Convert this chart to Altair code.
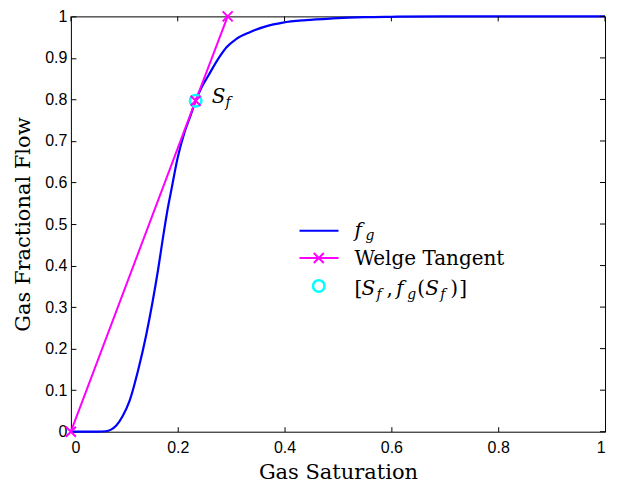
import altair as alt
import pandas as pd

# ---- data ----
sat = [0.0, 0.05, 0.065, 0.075, 0.085, 0.097, 0.110, 0.127, 0.141, 0.1527, 0.1632,
       0.1726, 0.181, 0.1885, 0.200, 0.2125, 0.2236, 0.2336, 0.245, 0.2567, 0.2785,
       0.291, 0.310, 0.335, 0.365, 0.397, 0.44, 0.49, 0.55, 0.6, 0.7, 0.8, 1.0]
frac = [0.0, 0.0, 0.001, 0.005, 0.015, 0.038, 0.075, 0.154, 0.233, 0.311, 0.390,
        0.469, 0.535, 0.585, 0.660, 0.720, 0.760, 0.797, 0.830, 0.856, 0.903,
        0.925, 0.946, 0.962, 0.976, 0.985, 0.991, 0.995, 0.998, 0.999, 1.0, 1.0, 1.0]
tan_s = [0.0, 0.2336, 0.2935]
tan_f = [0.0, 0.797, 1.0]
sf_s = [0.2336]
sf_f = [0.797]
x_ticks = [0, 0.2, 0.4, 0.6, 0.8, 1]
y_ticks = [0, 0.1, 0.2, 0.3, 0.4, 0.5, 0.6, 0.7, 0.8, 0.9, 1]

curve = pd.DataFrame({"s": sat, "f": frac})
tangent = pd.DataFrame({"s": tan_s, "f": tan_f})
point = pd.DataFrame({"s": sf_s, "f": sf_f})
xt = pd.DataFrame({"s": x_ticks})
yt = pd.DataFrame({"f": y_ticks})

SERIF = "DejaVu Serif"
SANS = "Liberation Sans"
W, H = 535, 416

xs = alt.Scale(domain=[0, 1], nice=False, zero=False)
ys = alt.Scale(domain=[0, 1], nice=False, zero=False)
x_axis = alt.Axis(orient="bottom", values=x_ticks, format="~g", offset=-5, tickSize=5,
                  domain=False, grid=False, labelPadding=8, labelFont=SANS,
                  labelFontSize=16, labelColor="black", tickColor="black", tickWidth=1,
                  title="Gas Saturation", titleFont=SERIF, titleFontSize=21,
                  titleFontWeight="normal", titleColor="black", titlePadding=6)
y_axis = alt.Axis(orient="left", values=y_ticks, format="~g", offset=-5, tickSize=5,
                  domain=False, grid=False, labelPadding=4, labelFont=SANS,
                  labelFontSize=16, labelColor="black", tickColor="black", tickWidth=1,
                  title="Gas Fractional Flow", titleFont=SERIF, titleFontSize=21,
                  titleFontWeight="normal", titleColor="black", titlePadding=11)

X = alt.X("s:Q", scale=xs, axis=x_axis)
Y = alt.Y("f:Q", scale=ys, axis=y_axis)

XMARK = "M-1,-1L1,1M1,-1L-1,1"

line_fg = alt.Chart(curve).mark_line(color="#0000ff", strokeWidth=2.2,
                                     interpolate="monotone").encode(x=X, y=Y)
line_tan = alt.Chart(tangent).mark_line(color="#ff00ff", strokeWidth=2).encode(x=X, y=Y)
circ = alt.Chart(point).mark_point(shape="circle", size=133, color="#00ffff",
                                   strokeWidth=2.5, filled=False, opacity=1).encode(x=X, y=Y)
xmarks = alt.Chart(tangent).mark_point(shape=XMARK, size=100, color="#ff00ff",
                                       strokeWidth=2, filled=False, opacity=1).encode(x=X, y=Y)
lab_S = alt.Chart(point).mark_text(text="S", font=SERIF, fontStyle="italic", fontSize=20,
                                   align="left", baseline="alphabetic", dx=16, dy=2,
                                   color="black").encode(x=X, y=Y)
lab_f = alt.Chart(point).mark_text(text="f", font=SERIF, fontStyle="italic", fontSize=14,
                                   align="left", baseline="alphabetic", dx=30, dy=6,
                                   color="black").encode(x=X, y=Y)

# inward ticks on top and right edges
top_ticks = alt.Chart(xt).mark_rule(color="black", strokeWidth=1).encode(
    x=X, y=alt.value(0), y2=alt.value(5))
right_ticks = alt.Chart(yt).mark_rule(color="black", strokeWidth=1).encode(
    y=Y, x=alt.value(W - 5), x2=alt.value(W))

# ---- legend ----
one = alt.Data(values=[{}])
leg = []
leg.append(alt.Chart(one).mark_rule(color="#0000ff", strokeWidth=2.2).encode(
    x=alt.value(229), x2=alt.value(268), y=alt.value(214.7)))
leg.append(alt.Chart(one).mark_rule(color="#ff00ff", strokeWidth=2).encode(
    x=alt.value(229), x2=alt.value(268), y=alt.value(242)))
leg.append(alt.Chart(one).mark_point(shape=XMARK, size=100, color="#ff00ff", strokeWidth=2,
                                     filled=False, opacity=1).encode(
    x=alt.value(248.3), y=alt.value(242)))
leg.append(alt.Chart(one).mark_point(shape="circle", size=133, color="#00ffff",
                                     strokeWidth=2.5, filled=False, opacity=1).encode(
    x=alt.value(248.3), y=alt.value(270)))


def txt(t, x, y, size=20, italic=False):
    return alt.Chart(one).mark_text(text=t, font=SERIF, fontSize=size,
                                    fontStyle="italic" if italic else "normal",
                                    align="left", baseline="alphabetic",
                                    color="black").encode(x=alt.value(x), y=alt.value(y))


leg += [txt("f", 284, 221, italic=True), txt("g", 295, 224, 14, italic=True)]
leg += [txt("Welge Tangent", 284, 249)]
leg += [txt("[", 284, 279), txt("S", 291, 279, italic=True), txt("f", 306, 283, 14, True),
        txt(",", 316, 279), txt("f", 326, 279, italic=True), txt("g", 337, 283, 14, True),
        txt("(", 347, 279), txt("S", 355, 279, italic=True), txt("f", 370, 283, 14, True),
        txt(")", 380, 279), txt("]", 389, 279)]

chart = alt.layer(line_fg, line_tan, circ, xmarks, lab_S, lab_f, top_ticks, right_ticks,
                  *leg).properties(
    width=W, height=H,
    autosize=alt.AutoSizeParams(type="none"),
    padding={"left": 63, "top": 8, "right": 10, "bottom": 56},
    background="white",
).configure_view(stroke="black", strokeWidth=1)

chart.save("out.html", embed_options={"renderer": "svg", "actions": False})
